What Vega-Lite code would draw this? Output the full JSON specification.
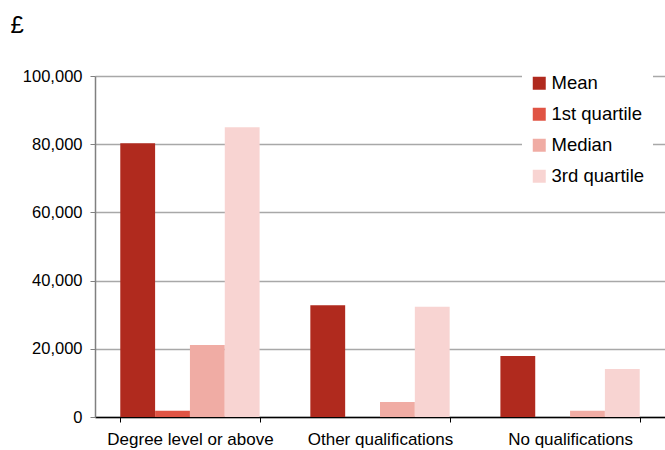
{
  "$schema": "https://vega.github.io/schema/vega-lite/v6.json",
  "autosize": "none",
  "width": 570,
  "height": 341,
  "padding": {"left": 95, "top": 76, "right": 0, "bottom": 33},
  "background": "white",
  "config": {
    "font": "Liberation Sans",
    "view": {"stroke": null}
  },
  "data": {
    "values": [
      {"qualification": "Degree level or above", "measure": "Mean", "value": 80300},
      {"qualification": "Degree level or above", "measure": "1st quartile", "value": 1800},
      {"qualification": "Degree level or above", "measure": "Median", "value": 21100},
      {"qualification": "Degree level or above", "measure": "3rd quartile", "value": 85000},
      {"qualification": "Other qualifications", "measure": "Mean", "value": 32800},
      {"qualification": "Other qualifications", "measure": "1st quartile", "value": 0},
      {"qualification": "Other qualifications", "measure": "Median", "value": 4400},
      {"qualification": "Other qualifications", "measure": "3rd quartile", "value": 32300},
      {"qualification": "No qualifications", "measure": "Mean", "value": 17900},
      {"qualification": "No qualifications", "measure": "1st quartile", "value": 0},
      {"qualification": "No qualifications", "measure": "Median", "value": 1800},
      {"qualification": "No qualifications", "measure": "3rd quartile", "value": 14100}
    ]
  },
  "mark": {"type": "bar"},
  "encoding": {
    "x": {
      "field": "qualification",
      "type": "nominal",
      "sort": ["Degree level or above", "Other qualifications", "No qualifications"],
      "scale": {"paddingInner": 0.267, "paddingOuter": 0.133},
      "axis": {
        "title": null,
        "labelAngle": 0,
        "labelFontSize": 17,
        "labelColor": "#000000",
        "labelPadding": 9,
        "tickBand": "extent",
        "tickSize": 5,
        "tickColor": "#000000",
        "domainColor": "#000000",
        "domainWidth": 1.5,
        "grid": false
      }
    },
    "xOffset": {
      "field": "measure",
      "type": "nominal",
      "sort": ["Mean", "1st quartile", "Median", "3rd quartile"],
      "scale": {"paddingInner": 0, "paddingOuter": 0}
    },
    "y": {
      "field": "value",
      "type": "quantitative",
      "scale": {"domain": [0, 100000], "nice": false},
      "axis": {
        "title": "£",
        "titleAngle": 0,
        "titleAlign": "left",
        "titleBaseline": "alphabetic",
        "titleX": -85,
        "titleY": -44,
        "titleFontSize": 24,
        "titleFontWeight": "normal",
        "titleColor": "#000000",
        "values": [0, 20000, 40000, 60000, 80000, 100000],
        "format": ",d",
        "labelFontSize": 16.5,
        "labelColor": "#000000",
        "labelPadding": 8,
        "tickSize": 5,
        "tickColor": "#808080",
        "domainColor": "#808080",
        "domainWidth": 1.5,
        "gridColor": "#A8A8A8",
        "gridWidth": 1.5
      }
    },
    "color": {
      "field": "measure",
      "type": "nominal",
      "sort": ["Mean", "1st quartile", "Median", "3rd quartile"],
      "scale": {
        "domain": ["Mean", "1st quartile", "Median", "3rd quartile"],
        "range": ["#B02A1E", "#E05444", "#F0ACA4", "#F8D4D2"]
      },
      "legend": {
        "title": null,
        "orient": "none",
        "legendX": 427,
        "legendY": -10,
        "padding": 8,
        "fillColor": "white",
        "symbolType": "square",
        "symbolSize": 169,
        "symbolStrokeWidth": 0,
        "symbolOpacity": 1,
        "labelFontSize": 18.5,
        "labelColor": "#000000",
        "labelOffset": 3,
        "rowPadding": 12
      }
    }
  }
}
